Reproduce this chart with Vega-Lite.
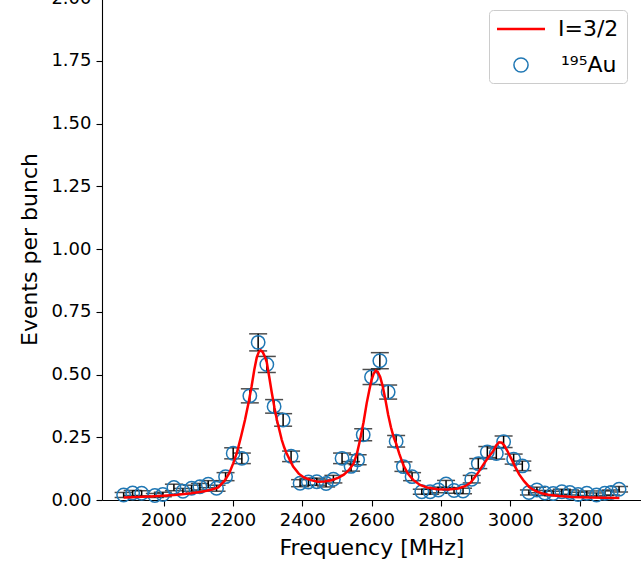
{
  "$schema": "https://vega.github.io/schema/vega-lite/v6.json",
  "width": 539,
  "height": 502,
  "autosize": {"type": "none"},
  "padding": {"left": 102, "top": -2, "right": 0, "bottom": 77},
  "background": "white",
  "datasets": {
    "pts": [
      {"f": 1885, "v": 0.020, "e": 0.010}, {"f": 1911, "v": 0.028, "e": 0.010}, {"f": 1937, "v": 0.027, "e": 0.010},
      {"f": 1975, "v": 0.018, "e": 0.008}, {"f": 1998, "v": 0.022, "e": 0.009}, {"f": 2030, "v": 0.050, "e": 0.013},
      {"f": 2056, "v": 0.035, "e": 0.011}, {"f": 2081, "v": 0.047, "e": 0.012}, {"f": 2105, "v": 0.053, "e": 0.013},
      {"f": 2129, "v": 0.063, "e": 0.014}, {"f": 2153, "v": 0.047, "e": 0.012}, {"f": 2179, "v": 0.093, "e": 0.016},
      {"f": 2201, "v": 0.186, "e": 0.022}, {"f": 2226, "v": 0.166, "e": 0.021}, {"f": 2249, "v": 0.415, "e": 0.028},
      {"f": 2273, "v": 0.628, "e": 0.034}, {"f": 2298, "v": 0.540, "e": 0.032}, {"f": 2319, "v": 0.373, "e": 0.027},
      {"f": 2345, "v": 0.319, "e": 0.025}, {"f": 2368, "v": 0.174, "e": 0.021}, {"f": 2394, "v": 0.067, "e": 0.014},
      {"f": 2418, "v": 0.072, "e": 0.014}, {"f": 2442, "v": 0.073, "e": 0.014}, {"f": 2469, "v": 0.066, "e": 0.014},
      {"f": 2490, "v": 0.083, "e": 0.015}, {"f": 2515, "v": 0.166, "e": 0.021}, {"f": 2541, "v": 0.134, "e": 0.019},
      {"f": 2560, "v": 0.160, "e": 0.020}, {"f": 2576, "v": 0.260, "e": 0.024}, {"f": 2600, "v": 0.490, "e": 0.030},
      {"f": 2624, "v": 0.555, "e": 0.032}, {"f": 2648, "v": 0.430, "e": 0.028}, {"f": 2671, "v": 0.234, "e": 0.023},
      {"f": 2692, "v": 0.133, "e": 0.019}, {"f": 2717, "v": 0.093, "e": 0.016}, {"f": 2745, "v": 0.033, "e": 0.010},
      {"f": 2769, "v": 0.033, "e": 0.010}, {"f": 2793, "v": 0.040, "e": 0.011}, {"f": 2815, "v": 0.064, "e": 0.014},
      {"f": 2838, "v": 0.038, "e": 0.011}, {"f": 2864, "v": 0.036, "e": 0.011}, {"f": 2889, "v": 0.083, "e": 0.015},
      {"f": 2908, "v": 0.145, "e": 0.020}, {"f": 2934, "v": 0.191, "e": 0.022}, {"f": 2960, "v": 0.185, "e": 0.022},
      {"f": 2981, "v": 0.232, "e": 0.023}, {"f": 3010, "v": 0.163, "e": 0.020}, {"f": 3035, "v": 0.136, "e": 0.019},
      {"f": 3054, "v": 0.030, "e": 0.010}, {"f": 3077, "v": 0.040, "e": 0.011}, {"f": 3100, "v": 0.028, "e": 0.010},
      {"f": 3124, "v": 0.026, "e": 0.009}, {"f": 3149, "v": 0.033, "e": 0.010}, {"f": 3172, "v": 0.030, "e": 0.010},
      {"f": 3196, "v": 0.022, "e": 0.009}, {"f": 3221, "v": 0.027, "e": 0.009}, {"f": 3249, "v": 0.020, "e": 0.008},
      {"f": 3273, "v": 0.027, "e": 0.009}, {"f": 3291, "v": 0.030, "e": 0.010}, {"f": 3314, "v": 0.043, "e": 0.011}
    ],
    "fit": [
      {"f": 1885, "v": 0.010}, {"f": 1920, "v": 0.012}, {"f": 1960, "v": 0.014}, {"f": 2000, "v": 0.017},
      {"f": 2040, "v": 0.021}, {"f": 2080, "v": 0.027}, {"f": 2110, "v": 0.033}, {"f": 2135, "v": 0.040},
      {"f": 2158, "v": 0.050}, {"f": 2177, "v": 0.078}, {"f": 2190, "v": 0.108}, {"f": 2201, "v": 0.146},
      {"f": 2212, "v": 0.190}, {"f": 2224, "v": 0.255}, {"f": 2235, "v": 0.319}, {"f": 2245, "v": 0.385},
      {"f": 2254, "v": 0.452}, {"f": 2262, "v": 0.520}, {"f": 2269, "v": 0.568}, {"f": 2275, "v": 0.590},
      {"f": 2280, "v": 0.596}, {"f": 2286, "v": 0.590}, {"f": 2292, "v": 0.572}, {"f": 2298, "v": 0.548},
      {"f": 2305, "v": 0.490}, {"f": 2312, "v": 0.430}, {"f": 2320, "v": 0.368}, {"f": 2327, "v": 0.320},
      {"f": 2334, "v": 0.280}, {"f": 2341, "v": 0.240}, {"f": 2348, "v": 0.210}, {"f": 2355, "v": 0.186},
      {"f": 2365, "v": 0.158}, {"f": 2374, "v": 0.133}, {"f": 2390, "v": 0.105}, {"f": 2405, "v": 0.090},
      {"f": 2425, "v": 0.079}, {"f": 2445, "v": 0.073}, {"f": 2465, "v": 0.074}, {"f": 2485, "v": 0.079},
      {"f": 2505, "v": 0.089}, {"f": 2520, "v": 0.101}, {"f": 2535, "v": 0.120}, {"f": 2548, "v": 0.145},
      {"f": 2558, "v": 0.185}, {"f": 2567, "v": 0.240}, {"f": 2577, "v": 0.310}, {"f": 2586, "v": 0.385},
      {"f": 2594, "v": 0.440}, {"f": 2600, "v": 0.478}, {"f": 2606, "v": 0.503}, {"f": 2612, "v": 0.515},
      {"f": 2618, "v": 0.510}, {"f": 2625, "v": 0.490}, {"f": 2632, "v": 0.455}, {"f": 2640, "v": 0.400},
      {"f": 2648, "v": 0.340}, {"f": 2656, "v": 0.290}, {"f": 2664, "v": 0.250}, {"f": 2671, "v": 0.225},
      {"f": 2680, "v": 0.185}, {"f": 2692, "v": 0.138}, {"f": 2705, "v": 0.105}, {"f": 2720, "v": 0.080},
      {"f": 2740, "v": 0.060}, {"f": 2760, "v": 0.050}, {"f": 2790, "v": 0.043}, {"f": 2820, "v": 0.042},
      {"f": 2850, "v": 0.046}, {"f": 2870, "v": 0.055}, {"f": 2885, "v": 0.068}, {"f": 2895, "v": 0.086},
      {"f": 2908, "v": 0.110}, {"f": 2922, "v": 0.140}, {"f": 2936, "v": 0.168}, {"f": 2950, "v": 0.193},
      {"f": 2960, "v": 0.218}, {"f": 2968, "v": 0.230}, {"f": 2976, "v": 0.228}, {"f": 2984, "v": 0.215},
      {"f": 2992, "v": 0.195}, {"f": 3003, "v": 0.165}, {"f": 3014, "v": 0.133}, {"f": 3026, "v": 0.102},
      {"f": 3040, "v": 0.075}, {"f": 3055, "v": 0.052}, {"f": 3070, "v": 0.038}, {"f": 3090, "v": 0.027},
      {"f": 3110, "v": 0.021}, {"f": 3140, "v": 0.016}, {"f": 3180, "v": 0.012}, {"f": 3230, "v": 0.010},
      {"f": 3270, "v": 0.009}, {"f": 3315, "v": 0.008}
    ]
  },
  "layer": [
    {
      "data": {"name": "pts"},
      "mark": {"type": "errorbar", "ticks": true, "size": 18, "thickness": 1.5, "color": "black"},
      "encoding": {
        "x": {"field": "f", "type": "quantitative", "scale": {"domain": [1822.6, 3377.3], "nice": false, "zero": false},
              "axis": {"title": "Frequency [MHz]", "values": [2000, 2200, 2400, 2600, 2800, 3000, 3200], "format": "d", "titlePadding": 8}},
        "y": {"field": "v", "type": "quantitative", "scale": {"domain": [0, 2], "nice": false},
              "axis": {"title": "Events per bunch", "values": [0, 0.25, 0.5, 0.75, 1, 1.25, 1.5, 1.75, 2], "format": ".2f", "titlePadding": 9}},
        "yError": {"field": "e"}
      }
    },
    {
      "data": {"name": "pts"},
      "mark": {"type": "point", "filled": false, "size": 180, "strokeWidth": 1.5, "opacity": 1},
      "encoding": {
        "x": {"field": "f", "type": "quantitative"},
        "y": {"field": "v", "type": "quantitative"},
        "color": {
          "datum": "¹⁹⁵Au",
          "scale": {"domain": ["¹⁹⁵Au"], "range": ["#1f77b4"]},
          "legend": {
            "orient": "none", "legendX": 387, "legendY": 48, "title": null,
            "labelFont": "DejaVu Sans", "labelFontSize": 22, "labelColor": "black",
            "padding": 8, "strokeColor": null, "fillColor": null,
            "symbolType": "circle", "symbolSize": 200, "symbolStrokeWidth": 1.5,
            "symbolOffset": 13, "labelOffset": 29
          }
        }
      }
    },
    {
      "data": {"name": "fit"},
      "mark": {"type": "line", "strokeWidth": 2.5},
      "encoding": {
        "x": {"field": "f", "type": "quantitative"},
        "y": {"field": "v", "type": "quantitative"},
        "stroke": {
          "datum": "I=3/2",
          "scale": {"domain": ["I=3/2"], "range": ["red"]},
          "legend": {
            "orient": "none", "legendX": 387, "legendY": 12, "title": " ",
            "titleOrient": "bottom", "titleFontSize": 22, "titlePadding": 14,
            "labelFont": "DejaVu Sans", "labelFontSize": 22, "labelColor": "black",
            "padding": 8, "strokeColor": "#cccccc", "fillColor": null, "cornerRadius": 4,
            "symbolType": "M-3,0L3,0", "symbolSize": 256, "symbolStrokeWidth": 2.5,
            "symbolOffset": 13, "labelOffset": 26
          }
        }
      }
    }
  ],
  "config": {
    "view": {"stroke": null},
    "axis": {
      "domainColor": "black", "tickColor": "black", "labelColor": "black", "titleColor": "black",
      "labelFont": "DejaVu Sans", "titleFont": "DejaVu Sans", "labelFontSize": 18, "titleFontSize": 22,
      "titleFontWeight": "normal", "grid": false, "tickSize": 6, "labelPadding": 5,
      "domainWidth": 1.1, "tickWidth": 1.1, "labelFlush": false, "labelOverlap": false
    }
  }
}
